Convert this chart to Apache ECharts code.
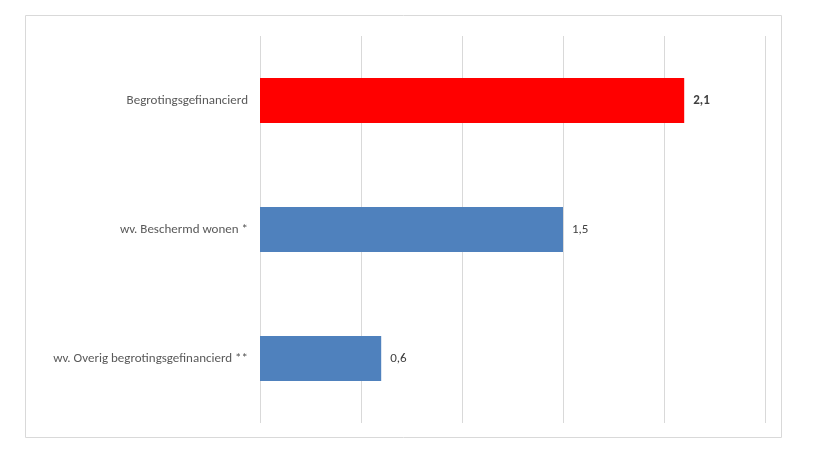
<!DOCTYPE html>
<html>
<head>
<meta charset="utf-8">
<script src="https://cdn.jsdelivr.net/npm/echarts@6/dist/echarts.min.js"></script>
<style>
  html, body { margin: 0; padding: 0; background: #fff; }
  #main { width: 813px; height: 466px; }
</style>
</head>
<body>
<div id="main"></div>
<script>
// data
var categories = ['Begrotingsgefinancierd', 'wv. Beschermd wonen *', 'wv. Overig begrotingsgefinancierd **']
var values = [2.1, 1.5, 0.6]
var barColors = ['#ff0000', '#4f81bd', '#4f81bd']
var boldLabel = [true, false, false]

var myChart = echarts.init(document.getElementById('main'))

var font = 'Calibri, Carlito, Lato, sans-serif'

myChart.setOption({
    animation: false,
    graphic: [{
        type: 'rect',
        shape: { x: 25.5, y: 15.5, width: 756, height: 422 },
        style: { fill: 'none', stroke: '#d9d9d9', lineWidth: 1 },
        silent: true
    }],
    grid: { left: 260, right: 48, top: 36, bottom: 43 },
    xAxis: {
        type: 'value',
        min: 0,
        max: 2.5,
        interval: 0.5,
        axisLabel: { show: false },
        axisLine: { show: false },
        axisTick: { show: false },
        splitLine: { lineStyle: { color: '#d9d9d9', width: 1 } }
    },
    yAxis: {
        type: 'category',
        inverse: true,
        data: categories,
        axisLine: { show: false },
        axisTick: { show: false },
        axisLabel: { color: '#595959', fontSize: 13, fontFamily: font, margin: 12 }
    },
    series: [{
        type: 'bar',
        barWidth: '35%',
        data: values.map(function (v, i) {
            return {
                value: v,
                itemStyle: { color: barColors[i] },
                label: { fontWeight: boldLabel[i] ? 'bold' : 'normal' }
            }
        }),
        label: {
            show: true,
            position: 'right',
            distance: 9,
            color: '#404040',
            fontSize: 13,
            fontFamily: font,
            formatter: function (p) { return String(p.value).replace('.', ',') }
        }
    }]
})
</script>
</body>
</html>
